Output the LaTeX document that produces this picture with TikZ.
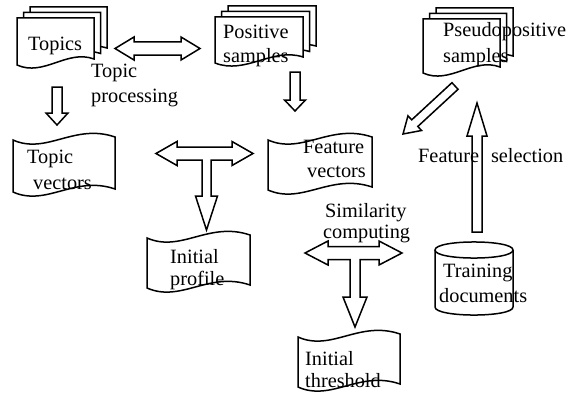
\documentclass[tikz,border=0pt]{standalone}
\usepackage{fontspec}
\setmainfont{Liberation Serif}
\usetikzlibrary{calc}
\tikzset{
  shapeline/.style={draw=black, line width=1.5pt, fill=white, line join=miter},
  lbl/.style={anchor=base west, inner sep=0pt, font=\fontsize{20.3}{24}\selectfont},
}
% single document shape: x0, x1, ytop, ybottom(left)
\newcommand{\mydocshape}[4]{%
  \draw[shapeline] (#1,#3) -- (#2,#3) -- (#2,{#4-6})
    .. controls ({#2-0.35*(#2-#1)},{#4-16}) and ({#1+0.35*(#2-#1)},{#4+12}) .. (#1,#4) -- cycle;}
% stacked documents
\newcommand{\mymultidoc}[4]{%
  \mydocshape{#1+13}{#2+13}{#3-11}{#4-11}
  \mydocshape{#1+6.5}{#2+6.5}{#3-5.5}{#4-5.5}
  \mydocshape{#1}{#2}{#3}{#4}}
% tape shape: x0, x1, ytop(left), height
\newcommand{\mytape}[4]{%
  \draw[shapeline] (#1,#3)
    .. controls ({#1+0.33*(#2-#1)},{#3+15}) and ({#1+0.6*(#2-#1)},{#3-17}) .. (#2,{#3-3})
    -- (#2,{#3-3+#4})
    .. controls ({#1+0.6*(#2-#1)},{#3+#4-17}) and ({#1+0.33*(#2-#1)},{#3+#4+15}) .. (#1,{#3+#4})
    -- cycle;}
% single block arrow: tail, tip, shaft half, head half, head length
\newcommand{\myblockarrow}[5]{%
  \coordinate (ba-t) at #1; \coordinate (ba-h) at #2;
  \coordinate (ba-b) at ($(ba-h)!#5!(ba-t)$);
  \draw[shapeline] ($(ba-t)!#3!90:(ba-h)$) -- ($(ba-b)!#3!90:(ba-h)$) -- ($(ba-b)!#4!90:(ba-h)$)
    -- (ba-h) -- ($(ba-b)!#4!-90:(ba-h)$) -- ($(ba-b)!#3!-90:(ba-h)$) -- ($(ba-t)!#3!-90:(ba-h)$) -- cycle;}
% horizontal double block arrow: L, R, cy, shaft half, head half, head length
\newcommand{\mydoublearrow}[6]{%
  \draw[shapeline] (#1,#3) -- ({#1+#6},{#3-#5}) -- ({#1+#6},{#3-#4}) -- ({#2-#6},{#3-#4})
    -- ({#2-#6},{#3-#5}) -- (#2,#3) -- ({#2-#6},{#3+#5}) -- ({#2-#6},{#3+#4})
    -- ({#1+#6},{#3+#4}) -- ({#1+#6},{#3+#5}) -- cycle;}
\begin{document}
\begin{tikzpicture}[x=1pt,y=-1pt]
\fill[white] (0,0) rectangle (569,396);
\useasboundingbox (0,0) rectangle (569,396);

% documents
\mymultidoc{17}{94}{18}{65}
\mymultidoc{215}{303}{17}{63}
\mymultidoc{423}{500}{19}{73}

% tapes
\mytape{13}{115}{140}{52}
\mytape{268}{372}{140}{50}
\mytape{147}{250}{238}{50}
\mytape{298}{400}{337}{50}

% cylinder
\draw[shapeline] (435,250) -- (435,307) .. controls (435,317.7) and (513,317.7) .. (513,307) -- (513,250);
\draw[shapeline] (435,250) .. controls (435,239.3) and (513,239.3) .. (513,250)
  .. controls (513,260.7) and (435,260.7) .. (435,250) -- cycle;

% arrows
\mydoublearrow{115}{200}{48.5}{6.5}{11.5}{19}
\myblockarrow{(57,87)}{(57,125)}{5pt}{11pt}{12pt}
\myblockarrow{(295,72)}{(295,111)}{5pt}{10.5pt}{11pt}
\myblockarrow{(477,232)}{(477,103)}{5pt}{10pt}{33pt}
\myblockarrow{(455,86)}{(403,134)}{4.5pt}{10pt}{16pt}

% T arrow 1
\draw[shapeline] (156,153.5) -- (177,141.5) -- (177,147) -- (232,147) -- (232,141.5) -- (253,153.5)
  -- (232,165.5) -- (232,160) -- (211,160) -- (211,196) -- (217.5,196) -- (206.5,230)
  -- (195.5,196) -- (202,196) -- (202,160) -- (177,160) -- (177,165.5) -- cycle;
% T arrow 2
\draw[shapeline] (305,253) -- (328,241) -- (328,246.5) -- (379,246.5) -- (379,241) -- (402,253)
  -- (379,265) -- (379,259.5) -- (360,259.5) -- (360,297) -- (367,297) -- (355,327)
  -- (343,297) -- (350,297) -- (350,259.5) -- (328,259.5) -- (328,265) -- cycle;

% texts
\node[lbl] (topics) at (28,50) {Topics};
\node[lbl] (tp1) at (91,77) {Topic};
\node[lbl] (tp2) at (91,102) {processing};
\node[lbl] (pos1) at (223,38) {Positive};
\node[lbl] (pos2) at (223,63) {samples};
\node[lbl] (pse1) at (443,37) {Pseudopositive};
\node[lbl] (pse2) at (443,63) {samples};
\node[lbl] (tv1) at (27,163) {Topic};
\node[lbl] (tv2) at (33,189) {vectors};
\node[lbl] (fv1) at (303,153) {Feature};
\node[lbl] (fv2) at (307,177) {vectors};
\node[lbl] (fs) at (418,162) {Feature\hspace{12pt}selection};
\node[lbl] (sim1) at (325,217) {Similarity};
\node[lbl] (sim2) at (323,238) {computing};
\node[lbl] (ip1) at (170,263) {Initial};
\node[lbl] (ip2) at (170,285) {profile};
\node[lbl] (td1) at (443,277) {Training};
\node[lbl] (td2) at (439,302) {documents};
\node[lbl] (it1) at (305,365) {Initial};
\node[lbl] (it2) at (305,387) {threshold};
\end{tikzpicture}
\end{document}
